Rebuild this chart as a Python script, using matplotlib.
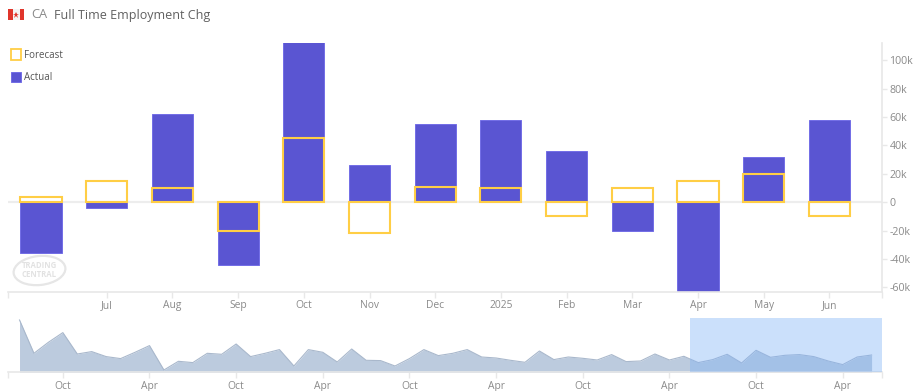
import matplotlib
matplotlib.use("Agg")
import matplotlib.pyplot as plt
from matplotlib.patches import Rectangle, Ellipse, Patch

plt.rcParams['font.family'] = ['Open Sans', 'DejaVu Sans']

W, H = 914, 391
months = ['', 'Jul', 'Aug', 'Sep', 'Oct', 'Nov', 'Dec', '2025', 'Feb', 'Mar', 'Apr', 'May', 'Jun']
actual = [-36, -4, 62.5, -44.5, 116, 26, 55, 58, 36, -20, -66, 32, 58]
forecast = [4, 15, 10, -20, 45, -22, 11, 10, -10, 10, 15, 20, -10]
y_ticks = [-60, -40, -20, 0, 20, 40, 60, 80, 100]

nav_heights = [52.3, 19, 30, 39.7, 18.3, 20.7, 15.7, 13.7, 20, 26.7, 2.3, 11, 9.7, 19, 18,
               28.3, 15.7, 19, 22.7, 6.3, 22.7, 20, 10.3, 23.3, 12, 11.7, 6.3, 13.7, 22.7, 16.7,
               19, 22.7, 15.3, 14.3, 12, 10, 21.3, 12.7, 15.3, 14, 12.3, 17.7, 10.7, 11.3, 18.3,
               12.3, 16, 9.7, 12.7, 18, 9.3, 22, 15, 17, 17.7, 15.7, 11.3, 7.7, 15.3, 17.3]
nav_tick_idx = [3, 9, 15, 21, 27, 33, 39, 45, 51, 57]
nav_tick_lab = ['Oct', 'Apr', 'Oct', 'Apr', 'Oct', 'Apr', 'Oct', 'Apr', 'Oct', 'Apr']
nav_select = (46.4, 59.7)

PURPLE = '#5A55D2'
YELLOW = '#FFCE45'
AXIS = '#E8E8E8'
TXT = '#8A8A8A'
FS = 7.4


def box(l, t, r, b):
    return [l / W, 1 - b / H, (r - l) / W, (b - t) / H]


fig = plt.figure(figsize=(W / 100, H / 100), dpi=100)

# main chart
ax = fig.add_axes(box(8, 43, 881.7, 292))
ax.set_xlim((8 - 41) / 65.7, (881.7 - 41) / 65.7)
ax.set_ylim((202.2 - 292) / 1.418, (202.2 - 43) / 1.418)
xs = list(range(len(months)))
ax.axhline(0, color='#EDEDED', lw=1.6, zorder=1)
ax.bar(xs, actual, width=0.625, color=PURPLE, edgecolor='#736EE6', linewidth=0.7, zorder=2)
ax.bar(xs, forecast, width=0.625, facecolor='none', edgecolor=YELLOW, linewidth=1.5, zorder=3)
for s in ('top', 'left'):
    ax.spines[s].set_visible(False)
for s in ('bottom', 'right'):
    ax.spines[s].set_color(AXIS)
    ax.spines[s].set_linewidth(1.2)
ax.yaxis.tick_right()
ax.set_yticks(y_ticks)
ax.set_yticklabels(['{}k'.format(v) if v else '0' for v in y_ticks])
lo, hi = ax.get_xlim()
ax.set_xticks([lo] + xs[1:] + [hi])
ax.set_xticklabels([''] + months[1:] + [''])
ax.tick_params(axis='x', length=4.5, width=1, color=AXIS, labelcolor=TXT, labelsize=FS, pad=1.2)
ax.tick_params(axis='y', length=3.5, width=1, color=AXIS, labelcolor=TXT, labelsize=7.7, pad=2)
ax.legend(handles=[Patch(facecolor='white', edgecolor=YELLOW, linewidth=1.3, label='Forecast'),
                   Patch(facecolor=PURPLE, edgecolor='#736EE6', linewidth=0.7, label='Actual')],
          loc='upper left', bbox_to_anchor=(8.5 / W, 1 - 46.5 / H), bbox_transform=fig.transFigure,
          frameon=False, handlelength=1.0, handleheight=1.25, handletextpad=0.3,
          labelspacing=1.1, fontsize=7, labelcolor='#555555', borderpad=0.3, borderaxespad=0)

# navigator
nav = fig.add_axes(box(8, 318, 881.7, 372.3))
idx = list(range(len(nav_heights)))
x_lo = (8 - 19.5) / 14.42
nav.set_xlim(x_lo, nav_select[1])
nav.set_ylim(0, 54.3)
nav.fill_between(idx, nav_heights, 0, color='#BCCBDE', lw=0, zorder=2)
nav.plot(idx, nav_heights, color='#A9B8CC', lw=0.8, zorder=3)
nav.axvspan(nav_select[0], nav_select[1], color='#7FB2F7', alpha=0.4, lw=0, zorder=4)
for s in ('top', 'left', 'right'):
    nav.spines[s].set_visible(False)
nav.spines['bottom'].set_color(AXIS)
nav.spines['bottom'].set_linewidth(1.2)
nav.set_yticks([])
nav.set_xticks([x_lo] + nav_tick_idx + [nav_select[1]])
nav.set_xticklabels([''] + nav_tick_lab + [''])
nav.tick_params(axis='x', length=4, width=1, color=AXIS, labelcolor=TXT, labelsize=FS, pad=2.5)

# overlay for header, flag and watermark (pixel coordinates)
ov = fig.add_axes([0, 0, 1, 1], facecolor='none', zorder=5)
ov.set_xlim(0, W)
ov.set_ylim(H, 0)
ov.axis('off')
ov.add_patch(Rectangle((8, 9), 16, 11, color='#F4F4F4', lw=0))
ov.add_patch(Rectangle((8, 9), 4.5, 11, color='#E0352B', lw=0))
ov.add_patch(Rectangle((19.5, 9), 4.5, 11, color='#E0352B', lw=0))
ov.plot([16], [14.5], marker='*', ms=5, color='#E0352B', mew=0)
ov.text(31, 15, 'CA', fontsize=9.3, color='#8A8A8A', va='center', ha='left')
ov.text(54, 15, 'Full Time Employment Chg', fontsize=9, color='#606060', va='center', ha='left')
ov.add_patch(Ellipse((39.5, 270.5), 52, 29, angle=-6, fill=False, ec='#E6E6E6', lw=1.6))
ov.text(39, 270, 'TRADING\nCENTRAL', fontsize=5.6, color='#E2E2E2', fontweight='bold',
        ha='center', va='center', linespacing=0.95)

fig.savefig('out.png', dpi=100)
